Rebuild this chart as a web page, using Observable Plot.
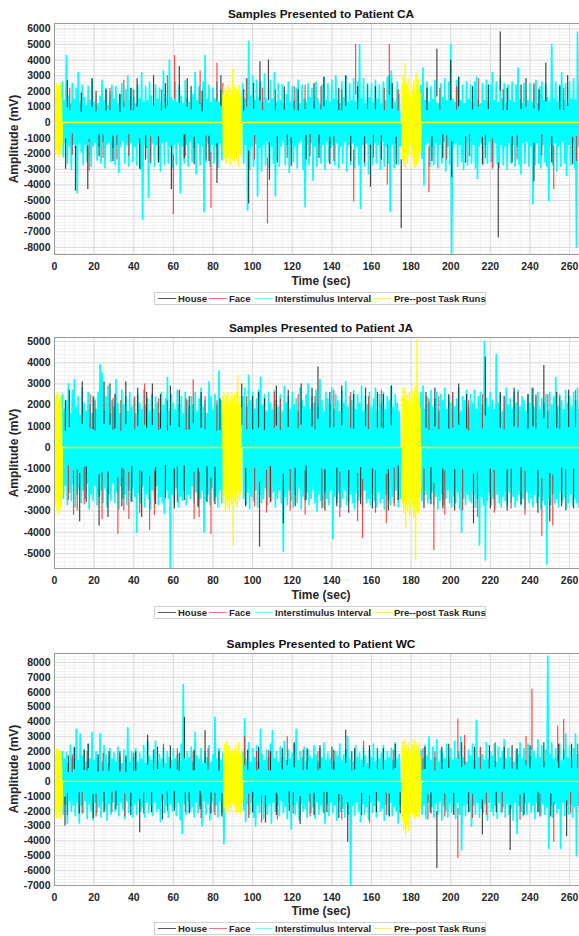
<!DOCTYPE html>
<html><head><meta charset="utf-8">
<script src="https://cdn.jsdelivr.net/npm/d3@7"></script>
<script src="https://cdn.jsdelivr.net/npm/@observablehq/plot@0.6"></script>
<style>
html,body{margin:0;padding:0;background:#fff;overflow:hidden;width:579px}
#root{position:relative;width:579px;height:936px;overflow:hidden;font-family:"Liberation Sans",Arial,sans-serif;color:#262626}
.panel{position:absolute;left:0;width:579px;height:310px;overflow:hidden}
.panel svg{display:block;overflow:hidden}
.ttl{position:absolute;left:54px;width:534px;text-align:center;font-weight:bold;font-size:11.8px;line-height:14px;color:#111;white-space:nowrap}
.xl{position:absolute;left:54px;width:534px;text-align:center;font-weight:bold;font-size:12px;line-height:14px;color:#262626}
.yl{position:absolute;left:14px;top:138px;transform:translate(-50%,-50%) rotate(-90deg);white-space:nowrap;font-weight:bold;font-size:12px;line-height:14px;color:#262626}
.lg{position:absolute;left:154px;width:330px;height:11px;border:1px solid #cfcfcf;background:#fff}
.lg span{position:absolute;top:0;font-weight:bold;font-size:9.5px;line-height:11px;color:#262626;white-space:nowrap}
.lg i{position:absolute;top:5px;height:1.4px;width:18px}
</style>
</head><body><div id="root"></div>
<script>
// ---------- shared ----------
const xTicks = [0,20,40,60,80,100,120,140,160,180,200,220,240,260];
const timeDomain = [0, 265];
const recordingEnd = 270;
const seriesNames = ["House","Face","Interstimulus Interval","Pre--post Task Runs"];
const seriesColors = ["#000000","#ff0000","#00ffff","#ffff00"];

// ---------- Patient CA ----------
const caYTicks = [-8000,-7000,-6000,-5000,-4000,-3000,-2000,-1000,0,1000,2000,3000,4000,5000,6000];
const caYDomain = [-8460, 6350];
const caIsiUp = [
0,0,0,0,2600,1400,4300,1700,1200,2500,
1500,2200,3200,1300,2400,1600,1100,2300,1400,2800,
1300,1900,1200,1700,2700,1400,2200,1100,1900,2400,
1500,2300,1200,1800,2500,1300,2100,3000,1400,2200,
1600,1200,2400,1500,3200,1300,2300,1400,2600,1700,
1200,2400,1500,2200,1300,3300,1800,1200,4000,1600,
1400,2600,1300,2400,1700,1200,2700,1500,1300,2300,
1800,3200,1400,2300,1200,2600,4300,1500,2400,1300,
2200,1500,2600,1300,2100,1800,0,0,0,0,
0,0,0,0,0,2500,1500,2800,5200,1700,
3000,1400,2700,1600,2600,1300,3100,1500,1200,2700,
1500,3200,1300,2500,1400,2400,1200,1800,2600,1300,
2300,1400,2200,2700,1200,2400,1500,1300,2500,1600,
2200,1300,2600,1500,1200,2400,2900,1400,2500,1300,
2700,1500,3000,1400,1200,2600,1600,3000,1300,2500,
1400,2800,1300,2600,5000,1500,2800,1200,2500,1600,
2500,1300,2700,1500,2400,1200,2600,1400,2900,3000,
3300,1500,1300,2600,1800,0,0,0,0,0,
0,0,0,0,0,2400,3500,1400,2600,1300,
2300,1500,2700,1300,1200,2500,1600,2800,1400,2600,
5000,1500,1300,2700,2900,1400,2400,1200,2600,1500,
2400,1300,2600,2900,1500,1200,2500,1400,2700,1300,
2400,3200,1400,2600,1300,2800,1500,2500,1200,2400,
1400,2600,1300,2400,3500,1500,1200,2500,2800,1400,
2500,1300,2400,2700,1200,2300,2600,1400,2500,1600,
1300,5000,1500,2600,1300,2400,3200,1400,2500,1200,
2600,1500,2800,1400,5800,2500,1300,2600,1500,2400];
const caIsiDown = [
0,0,0,0,-2200,-1300,-2600,-1500,-3000,-1400,
-1600,-4500,-1300,-1900,-2700,-1400,-2500,-1200,-2800,-1500,
-1300,-2400,-1500,-2600,-1200,-2900,-1400,-1300,-2500,-1600,
-2700,-1400,-3200,-1500,-1200,-2600,-1400,-2800,-1300,-2500,
-1500,-2700,-1300,-3000,-6200,-1400,-1600,-4800,-2600,-1300,
-2800,-1400,-2500,-3100,-1300,-2700,-1200,-2600,-1500,-2900,
-1400,-2700,-1300,-4500,-1500,-2600,-1400,-2800,-1200,-2500,
-1600,-3300,-1300,-2700,-1500,-5700,-2500,-1300,-2800,-1400,
-2600,-1500,-2900,-1300,-2400,-1600,0,0,0,0,
0,0,0,0,0,-2600,-1400,-5600,-3000,-1500,
-2800,-1300,-4700,-1600,-3100,-1400,-2700,-1200,-2900,-1500,
-2600,-4700,-1300,-2800,-1500,-1200,-2700,-1400,-3200,-1300,
-2500,-1500,-2900,-1300,-1200,-3000,-5400,-1400,-2700,-1300,
-3700,-1500,-2800,-1300,-2600,-1400,-3000,-1200,-2500,-1600,
-1400,-2700,-1300,-2900,-1500,-2600,-1200,-3100,-1400,-2700,
-1300,-2900,-1500,-2700,-5500,-1400,-2800,-1300,-3300,-1500,
-2700,-1300,-2600,-1400,-3000,-1200,-2800,-1500,-2600,-5700,
-1400,-2900,-1300,-2700,-1500,0,0,0,0,0,
0,0,0,0,0,-2300,-4000,-1400,-1300,-2800,
-1500,-2700,-1300,-2900,-1400,-2600,-1200,-3100,-1500,-2700,
-8400,-1600,-1300,-2800,-1400,-2500,-3000,-1300,-2700,-1200,
-2600,-1400,-2900,-3600,-1500,-1300,-2700,-1400,-2600,-1200,
-2500,-2800,-1300,-2600,-2900,-1400,-2700,-1500,-3000,-1300,
-2600,-1400,-2800,-1500,-2700,-3300,-1300,-2600,-1200,-2800,
-1500,-5200,-2700,-1300,-2600,-2900,-1400,-2500,-2800,-5000,
-1400,-2700,-1300,-3100,-1500,-2800,-1200,-2600,-3400,-1400,
-2700,-1300,-2900,-8000,-1500,-2800,-1200,-2600,-1400,-2700];
const caHouse = [[5.6,-3000],[6.5,2700],[10.6,-4400],[13.5,1900],[16.8,-4300],[19,2800],[22.5,-2200],[26,2100],[29.5,-2500],[33,1800],[38.5,2200],[41.7,2800],[43,-3000],[46,-2400],[50,3000],[52.5,-2600],[56,2500],[59,-4300],[63,3600],[65.5,-2300],[67,2800],[70.5,-2700],[74.5,2000],[78,-2500],[82,-3900],[84,3000],[95.5,2100],[98,-5200],[100.5,2500],[103.7,3900],[108,4000],[108.5,-3700],[112.5,-2600],[116,2300],[119.5,-2800],[123,2100],[127,-2400],[131,2500],[133.5,-2300],[136,2900],[139,-2700],[143.5,2200],[147,3000],[149.5,-2500],[153,2300],[156.5,-2600],[159.5,-4150],[162,2300],[165,-2400],[170.5,2500],[172.5,-2700],[175,-6800],[188,2200],[190.5,-2500],[193,4700],[196,-2300],[200,4000],[200.5,-3500],[204,2900],[207.5,-2600],[211,2300],[216,-2700],[219,2400],[224,-7400],[225,5800],[228.5,2200],[231,-2600],[235.5,2400],[242,-3800],[244.5,2100],[248,3800],[251,-2600],[255,2300],[259,3000],[261.5,-2700],[266,2200]];
const caFace = [[7.7,2200],[9,-2100],[17.5,-3100],[21,2000],[24.5,-2300],[28,2200],[31.5,-2400],[35,2700],[37.5,-2200],[40,2100],[48.5,-2600],[54,2100],[57,3000],[60,-5900],[60.6,4300],[66,-2200],[69,2300],[73.5,3300],[76.5,-2400],[79,-5500],[82,3800],[85,2500],[97,2800],[101,-2400],[105,2200],[107.5,-6500],[111.5,2100],[117.5,-2300],[121,2300],[126.5,2400],[129,-2200],[134.5,2300],[141,-2500],[145,2100],[151,-5100],[152,5000],[158,2400],[161,-2300],[166.5,2200],[168,-4000],[169,5000],[173.5,2100],[189,-4500],[194.5,2200],[198,-2400],[203,2300],[209.5,-2200],[214,2800],[217.5,-2300],[221,-3000],[226.5,2100],[233.5,-2400],[238,2800],[242,2500],[246,-2200],[252,-4300],[257,2200],[263.5,-2500],[267,2300]];
const caPreStart = [0, 85, 175.5];
const caPreUp = [
[2400,1800,2500,2100,2300,1900,2500,1600],
[1800,2300,1700,2100,1900,2400,1800,2200,1600,2000,3400,1900,2300,1700,2100,1800,2400,1900,1600],
[2400,3000,2600,3800,2500,2200,2800,2100,1800,1500,1900,2300,2700,2000,3200,2400,2800,2100,1900]];
const caPreDown = [
[-2100,-1700,-2000,-1500,-2200,-1800,-2000,-1400],
[-1900,-2300,-1700,-2600,-2000,-2200,-1800,-2700,-2100,-2400,-1900,-2500,-2000,-2300,-1700,-2800,-2100,-1900,-2200],
[-2300,-2800,-2500,-3000,-2200,-2600,-2000,-1500,-1300,-1700,-2100,-2600,-2900,-2300,-2700,-2100,-2500,-1900,-1800]];

// ---------- Patient JA ----------
const jaYTicks = [-5000,-4000,-3000,-2000,-1000,0,1000,2000,3000,4000,5000];
const jaYDomain = [-5710, 5190];
const jaIsiUp = [
0,0,0,0,2500,1800,2200,3000,1600,2700,
3200,1900,2400,1500,2800,2100,1700,2600,2000,1600,
2300,1800,2600,3900,3500,1700,2400,2900,1600,2200,
1900,3200,2100,1600,2700,2000,2400,1700,2600,1900,
2300,1600,2500,2100,1800,2700,2000,2300,1700,2500,
1800,2400,2100,1600,2600,2000,2300,3300,1700,2500,
2100,1800,2700,2000,2400,1600,2600,2200,1900,2400,
2000,2600,1700,2300,2800,1900,2200,1600,3100,2400,
1800,2500,2000,3600,2200,1700,0,0,0,0,
0,0,0,0,0,2400,2800,1900,3400,2200,
2600,1800,2300,2700,3300,2000,2500,1700,2600,2100,
1800,2700,2200,1900,2500,1700,2900,2100,2400,1800,
2600,2000,2300,1700,2800,2200,1900,2500,3000,1800,
2400,2100,2700,1900,3200,2200,1700,2600,2300,2000,
2800,1800,2500,2200,1700,2700,2100,3100,1900,2400,
2200,2700,1800,2500,2100,2900,1700,2400,2000,2600,
1900,2300,2800,1700,2500,2100,2600,1800,2400,2200,
2900,1900,2500,2100,1700,0,0,0,0,0,
0,0,0,0,0,2600,2900,1800,2400,2100,
2700,1900,2300,2600,1700,2500,2200,2800,1800,2400,
2100,2600,1900,2300,2800,1700,2400,2200,2700,1900,
2500,2100,2700,1800,2400,2600,2000,5000,2300,1900,
2600,2200,1800,4400,2100,2500,1700,2400,2800,2000,
2300,1800,2600,2100,2700,1900,2400,2200,1700,2500,
2100,2800,1900,2400,2600,1800,2300,2100,2500,1700,
2600,2000,2400,3300,1900,2500,2200,1800,2700,2100,
2400,1900,2600,2200,2800,1800,2500,2300,2000,2400];
const jaIsiDown = [
0,0,0,0,-2400,-1800,-2700,-2100,-2500,-1700,
-2800,-2200,-1900,-2600,-2000,-2400,-1700,-2900,-2200,-2500,
-1800,-2700,-2300,-2000,-2600,-1900,-2800,-2200,-2500,-1700,
-2600,-2100,-2900,-1800,-2400,-2200,-2700,-2000,-2500,-1900,
-2300,-4000,-2100,-2600,-1800,-2800,-2200,-2400,-2900,-2000,
-2500,-1800,-2700,-2300,-2600,-3100,-2000,-2400,-5700,-2200,
-2600,-1900,-2800,-2300,-2500,-2000,-2700,-2200,-2400,-1800,
-2600,-2100,-2800,-2400,-2000,-4000,-2500,-2200,-2700,-1900,
-2500,-2300,-2800,-2000,-2600,-2200,0,0,0,0,
0,0,0,0,0,-2400,-2700,-2100,-2900,-2300,
-2500,-2000,-2800,-2200,-2600,-2400,-1900,-2700,-2300,-2500,
-2100,-2800,-2400,-2000,-2600,-4900,-2300,-2700,-2000,-2500,
-2800,-2200,-2600,-1900,-2900,-2300,-2500,-2100,-2700,-2400,
-2000,-2600,-3000,-2200,-2500,-2800,-2100,-2400,-2700,-2000,
-4300,-2300,-2600,-2100,-2800,-2400,-2000,-2700,-2500,-2200,
-2600,-2900,-2100,-2500,-2300,-2800,-2000,-2600,-2400,-2700,
-2200,-2500,-2800,-2100,-2600,-2400,-2900,-2200,-2500,-2700,
-2300,-2600,-2000,-2800,-2400,0,0,0,0,0,
0,0,0,0,0,-2500,-2800,-2200,-2600,-2400,
-2100,-2700,-2300,-2900,-2500,-2200,-2700,-2400,-2000,-2600,
-2800,-2300,-2600,-2100,-2900,-4000,-2400,-2700,-2200,-2500,
-2600,-2200,-2800,-2400,-4600,-2300,-2700,-5300,-2500,-2100,
-2700,-2400,-2900,-2200,-2600,-2800,-2300,-2500,-2700,-2100,
-2600,-2300,-2800,-2500,-2200,-2700,-2400,-2900,-2100,-2600,
-2400,-2800,-2200,-2600,-2300,-2900,-2500,-2700,-5500,-2400,
-2700,-2200,-2600,-2400,-2800,-2100,-2500,-2300,-2900,-2600,
-2200,-2700,-2400,-2600,-2800,-2300,-2500,-2700,-2200,-2600];
const jaHouse = [[5.5,2200],[7.5,2700],[12.7,-3500],[14,3100],[16,-2600],[19.5,2400],[22.5,-3700],[25,3100],[27,-3300],[28,3000],[30.5,2500],[34,-2800],[36,3100],[39,-2600],[42,2800],[44,-3300],[46.5,2600],[49.4,3000],[51,-2700],[53.5,2500],[56,-2400],[58.5,2900],[60.5,-2900],[63,2700],[65.5,-2500],[68,2400],[72.5,-2800],[74,2600],[77,-2600],[81,-2700],[83.5,2300],[94.5,3000],[96.5,-2800],[100,2400],[103,2600],[103.5,-4700],[106,2300],[109,-2600],[112,2900],[115.5,-3600],[118,2700],[121.5,-2800],[124.5,3000],[127,-2500],[130,2800],[133,3800],[136.5,-3000],[139,2600],[142.5,-2800],[145,2900],[148.5,-3100],[151,2500],[154.5,-2700],[157,2800],[160.5,-2900],[163,2600],[166,2500],[168.5,-3000],[170,2900],[173.5,-2500],[187.5,2600],[190,-2700],[192,2800],[196,-2900],[199,2500],[202,-3000],[204,3000],[208,2500],[211.5,-3600],[217.5,4260],[220,-2900],[225,2600],[228.5,-3000],[232,2800],[235.5,-2700],[239,2500],[241.5,2800],[244,-3100],[247,3870],[250,-3500],[253.5,2600],[256,-2800],[259.5,2700],[262,-2900],[266,2500]];
const jaFace = [[7,-2500],[9.6,-3200],[11.5,-3000],[15,-2700],[18,2500],[20.5,2200],[24,-3400],[29.5,2300],[32,-4100],[33.5,2200],[35,-3000],[37.5,-3400],[40.5,2400],[43,-3100],[45.5,3000],[48,-3900],[50.5,-3200],[52.5,2300],[57,2200],[62,-2600],[66.5,2300],[70,3200],[70.5,-3400],[73,-3300],[76,2400],[79,-4100],[82,2200],[97,2400],[101,-2800],[107,-3100],[109,-2600],[111,2600],[114,2300],[119,-3000],[123,2500],[126.5,-3200],[131.5,2400],[135,-2900],[141,2700],[144,-3300],[149.5,2600],[153,-3500],[155.5,-4300],[158.5,2400],[162,-3100],[165,2700],[167.5,-3600],[171.5,-2800],[186.5,-2900],[189,2300],[191.5,-4870],[194,2400],[197,-3200],[201,2600],[206,-3000],[209,2200],[213.5,-3300],[216,2500],[222,-3100],[227,2400],[230.5,-2900],[234,2600],[237.5,-3200],[243,2500],[246,-4200],[249,2500],[251.5,-3700],[255,2400],[258,-3000],[263,2700],[267,-3100]];
const jaPreStart = [0, 85, 175.5];
const jaPreUp = [
[2600,2300,2500,2600,2200,2500,2400,2000],
[2400,2600,2100,2500,2300,2600,2000,2400,2200,2600,2300,2100,2500,2200,2600,3400,2100,2400,1900],
[2400,2800,2300,2800,2100,2500,2200,2600,1900,2300,2700,2100,2500,2900,2400,5100,2600,2200,1900]];
const jaPreDown = [
[-2800,-2400,-3000,-2600,-3100,-2700,-2900,-2300],
[-2600,-2200,-3000,-2400,-2800,-2500,-2900,-2200,-2700,-2400,-4600,-2100,-2600,-2300,-2800,-2000,-2500,-2200,-1900],
[-2600,-3100,-2800,-3800,-2500,-3000,-2700,-3200,-2400,-2900,-2600,-3300,-2800,-5300,-3000,-2700,-3100,-2400,-2100]];

// ---------- Patient WC ----------
const wcYTicks = [-7000,-6000,-5000,-4000,-3000,-2000,-1000,0,1000,2000,3000,4000,5000,6000,7000,8000];
const wcYDomain = [-7000, 8600];
const wcIsiUp = [
0,0,0,0,2000,1500,1900,1200,2400,1600,
2200,3500,1400,3200,1700,2100,1300,2500,1500,3300,
1400,2000,1600,3200,1300,2400,1800,1200,2200,1500,
1900,1300,2300,1600,1200,2100,1500,3600,1300,2000,
1600,2200,1300,1900,1500,2400,1200,2700,1700,1400,
2100,2700,1300,1800,1500,2300,1200,2000,1600,1400,
2200,1500,1800,1300,2500,6500,1400,2000,1600,2300,
1300,3300,1700,1500,2200,1200,2000,1600,2400,1300,
1800,4300,1500,2200,1400,1900,0,0,0,0,
0,0,0,0,0,2000,4200,1500,2600,1300,
2200,1600,2400,1300,3500,1800,1400,2100,1600,2500,
3400,1500,2000,1300,2300,1600,2700,1400,2100,1500,
1900,2500,3500,1400,2000,1600,2300,1300,2100,1700,
1500,2400,1800,1300,2200,1600,2600,1400,1900,1500,
2300,1300,2000,1700,2500,1400,1800,2100,3000,1500,
2000,1300,2400,1600,1900,1400,2300,1700,1200,2100,
1600,2500,1300,2200,1500,1900,2400,1400,2000,1600,
2200,1400,2600,1500,1800,0,0,0,0,0,
0,0,0,0,0,2100,1500,2400,1700,3000,
1400,2300,1600,2800,1300,2100,1900,1500,2500,1600,
2200,1400,2700,1500,2000,3000,1600,2400,1300,2100,
1700,2500,1400,4100,1600,2200,1800,1400,2600,1500,
2000,1700,2500,1300,2300,1600,2000,2800,1500,2200,
1600,2400,1300,2100,1800,2600,1500,2200,1400,2500,
1700,2300,2000,1500,2800,1600,2400,1300,2100,8400,
1800,2600,1500,2200,1700,2500,1400,2100,3200,1600,
2400,1500,2200,3200,1800,2500,1400,2100,1700,2300];
const wcIsiDown = [
0,0,0,0,-2200,-1500,-2800,-1300,-2000,-1600,
-2300,-1400,-2800,-1600,-2100,-1300,-2500,-1500,-2000,-2600,
-1400,-2100,-1700,-2400,-1300,-1900,-2600,-1500,-2200,-1400,
-2000,-1600,-2300,-1400,-1900,-2500,-1300,-2100,-1600,-2400,
-1500,-2200,-1300,-2000,-1700,-2400,-1400,-2100,-1600,-2300,
-1400,-2000,-1800,-2700,-1300,-2100,-1600,-2400,-1500,-2000,
-1700,-2300,-1400,-2600,-3500,-1500,-2200,-1300,-2000,-1700,
-2400,-1400,-2100,-1600,-3000,-1300,-2200,-1500,-2600,-1400,
-2000,-1600,-2400,-1300,-2100,-4200,0,0,0,0,
0,0,0,0,0,-1900,-2700,-1500,-2200,-1400,
-2400,-3000,-1600,-2100,-1400,-2500,-1700,-2200,-1500,-2800,
-1400,-2000,-1600,-2300,-1300,-2100,-1700,-2500,-1400,-3200,
-1600,-2200,-1400,-2600,-1500,-2000,-1800,-2400,-1300,-2100,
-1700,-2500,-1400,-2200,-1600,-2000,-2800,-1500,-2300,-1400,
-2100,-1600,-2600,-1300,-2000,-1800,-2400,-1500,-2200,-7000,
-1600,-2300,-1400,-2000,-2700,-1500,-2200,-1700,-2500,-1400,
-2100,-1600,-2400,-1300,-2000,-1800,-2600,-1500,-2200,-1400,
-2300,-1700,-2000,-2800,-1500,0,0,0,0,0,
0,0,0,0,0,-2200,-1600,-2500,-1400,-2000,
-1700,-2400,-1500,-2200,-1300,-2600,-1600,-2000,-2400,-1500,
-2100,-1700,-2500,-1400,-2200,-4600,-1600,-2300,-1500,-2000,
-3000,-1600,-2200,-1400,-2400,-1800,-2100,-1500,-2600,-1400,
-2000,-2300,-1600,-2500,-1400,-2100,-1700,-2400,-1500,-2200,
-1800,-2600,-1400,-3500,-1600,-2000,-2300,-1500,-2200,-1400,
-2100,-1600,-2500,-1400,-2000,-2300,-1500,-2200,-1700,-4500,
-1600,-2400,-1500,-2100,-1800,-4500,-1400,-2300,-1600,-2200,
-1500,-2400,-1700,-5000,-1600,-2200,-1400,-2500,-1700,-2100];
const wcHouse = [[5.3,-3000],[7,1700],[10,2300],[12.5,-2200],[15,2100],[17,2500],[19.5,-2500],[22,1800],[25,-2100],[27.5,2000],[31,-1900],[33,2000],[36,1700],[38.5,-2300],[41,2000],[43,-3450],[47,3100],[49,-2100],[52,2300],[54.5,-2600],[58.5,2400],[60.5,-2000],[63,1900],[65.6,4300],[68,-2200],[70.5,2100],[73.5,-1900],[76,3400],[79,-2200],[83,2000],[84.5,-2400],[97.5,2100],[100,-2100],[103,2300],[106.5,-2800],[109,2000],[112,-2300],[115,2200],[118.5,-2000],[121,2600],[124,-2900],[127.5,2200],[131,-2300],[134,2400],[137.5,-2100],[141,2100],[143.5,-2500],[147,3440],[148,-4100],[151.5,2200],[155,-2300],[159,2400],[162.5,-2100],[166,2200],[169,-2400],[172,2500],[174.5,-2200],[187,2300],[190,-2200],[193,-5850],[195.5,2300],[199,2500],[201.5,-2300],[205.5,2600],[209,-2100],[212,2300],[216,-3600],[219.5,2400],[223,-2100],[227,2300],[230,-4640],[233.5,2200],[237,-2300],[240,2400],[244,-2100],[247,2600],[250.5,-2400],[254.5,2500],[258.5,-3700],[261,2500],[265,-2200]];
const wcFace = [[6.5,-2300],[9,1800],[14,-2200],[16.5,2000],[21,-2400],[24.5,1900],[29,-2100],[33,1800],[35.5,-2400],[40,1900],[45,-2200],[50,2100],[55,2500],[57,-2000],[62,2200],[66,-2100],[70,2000],[74,-2500],[77.5,2200],[81,-2300],[96,3000],[98,-2500],[102,2000],[104.5,-2800],[108,2100],[112.5,-2600],[117.5,3000],[120.5,-2200],[125.5,2100],[129,-2400],[133,2000],[136,-2200],[140,2300],[145,-2600],[150,2000],[156,2700],[159,-2800],[163,2200],[167.5,-2300],[171,2100],[186,2200],[188.5,-2600],[192,2000],[197,-2400],[203.6,4200],[203.6,-5200],[207,3100],[211,-2500],[215,2300],[218,-2300],[222.5,2600],[226,-2100],[231,2400],[235,-2600],[238,3000],[241,6200],[245,-2400],[252,-4100],[254,3700],[257,4170],[260.5,-2200],[264,2500],[268,-2400]];
const wcPreStart = [0, 85.5, 175.5];
const wcPreUp = [
[2000,1800,2200,1700,2100,1900,2000,1500],
[2000,2500,2200,2700,1900,2400,2100,1800,2300,2000,1700,2100,2400,1900,2200,2600,2000,1800,2100],
[2300,2700,2100,2800,2400,2000,2600,2200,1800,2100,2500,2300,2800,2000,2400,2100,2600,1900,1700]];
const wcPreDown = [
[-2300,-2000,-2500,-1800,-2400,-2100,-2500,-1700],
[-1800,-2200,-1600,-2000,-1700,-2200,-1500,-1900,-1300,-1600,-1400,-1800,-2100,-1700,-2000,-1600,-2200,-1900,-1500],
[-2600,-3200,-2800,-3500,-3000,-2700,-3300,-2400,-2100,-1800,-2200,-1900,-2500,-2100,-2300,-1800,-2400,-2000,-1700]];

// ---------- helpers ----------
function zigzag(up, down) {
  const pts = [];
  up.forEach((u, t) => { pts.push({t, v: u}); pts.push({t: t + 0.5, v: down[t]}); });
  return pts;
}
function taskLine(starts, ups, downs, end) {
  const pts = [];
  starts.forEach((s, b) => {
    pts.push({t: s, v: 0});
    ups[b].forEach((u, i) => {
      pts.push({t: s + i * 0.5, v: u});
      pts.push({t: s + i * 0.5 + 0.25, v: downs[b][i]});
    });
    pts.push({t: s + ups[b].length * 0.5, v: 0});
  });
  pts.push({t: end, v: 0});
  return pts;
}

const panels = [
  {title: "Samples Presented to Patient CA", top: 0, plotH: 231, yDomain: caYDomain, yTicks: caYTicks, up: caIsiUp, down: caIsiDown, house: caHouse, face: caFace, ps: caPreStart, pu: caPreUp, pd: caPreDown},
  {title: "Samples Presented to Patient JA", top: 314, plotH: 231, yDomain: jaYDomain, yTicks: jaYTicks, up: jaIsiUp, down: jaIsiDown, house: jaHouse, face: jaFace, ps: jaPreStart, pu: jaPreUp, pd: jaPreDown},
  {title: "Samples Presented to Patient WC", top: 630, plotH: 232, yDomain: wcYDomain, yTicks: wcYTicks, up: wcIsiUp, down: wcIsiDown, house: wcHouse, face: wcFace, ps: wcPreStart, pu: wcPreUp, pd: wcPreDown}
];

const root = document.getElementById("root");
const fmt = d => String(d);

for (const p of panels) {
  const wrap = document.createElement("div");
  wrap.className = "panel";
  wrap.style.top = p.top + "px";
  const isi = zigzag(p.up, p.down);
  const pre = taskLine(p.ps, p.pu, p.pd, recordingEnd);
  const [y0, y1] = p.yDomain;
  const chart = Plot.plot({
    width: 579, height: 23 + p.plotH + 36,
    marginLeft: 54, marginRight: 0, marginTop: 23, marginBottom: 36,
    style: {fontFamily: '"Liberation Sans", Arial, sans-serif', fontSize: "10.5px", fontWeight: "bold", color: "#262626", background: "transparent", overflow: "hidden"},
    x: {domain: timeDomain, axis: null},
    y: {domain: p.yDomain, axis: null},
    marks: [
      Plot.gridX(d3.range(0, timeDomain[1] + 1, 5), {stroke: "#f1f1f1", strokeOpacity: 1}),
      Plot.gridY(d3.range(Math.ceil(y0 / 200) * 200, y1, 200), {stroke: "#f1f1f1", strokeOpacity: 1}),
      Plot.gridX(xTicks, {stroke: "#dcdcdc", strokeOpacity: 1}),
      Plot.gridY(p.yTicks, {stroke: "#dcdcdc", strokeOpacity: 1}),
      Plot.line(isi, {x: "t", y: "v", stroke: seriesColors[2], strokeWidth: 1.7, clip: true}),
      Plot.ruleX(p.house, {x: d => d[0], y1: d => d[1] * 0.35, y2: d => d[1], stroke: seriesColors[0], strokeOpacity: 0.72, strokeWidth: 1.2, clip: true}),
      Plot.ruleX(p.face, {x: d => d[0], y1: d => d[1] * 0.35, y2: d => d[1], stroke: seriesColors[1], strokeOpacity: 0.7, strokeWidth: 1.2, clip: true}),
      Plot.line(pre, {x: "t", y: "v", stroke: seriesColors[3], strokeWidth: 1.4, clip: true}),
      Plot.frame({anchor: "top", stroke: "#9a9a9a"}),
      Plot.frame({anchor: "left", stroke: "#9a9a9a"}),
      Plot.frame({anchor: "bottom", stroke: "#9a9a9a"}),
      Plot.axisX(xTicks, {tickSize: 0, tickPadding: 8, tickFormat: fmt, label: null}),
      Plot.axisY(p.yTicks, {tickSize: 0, tickPadding: 4, tickFormat: fmt, label: null})
    ]
  });
  wrap.append(chart);

  const t = document.createElement("div");
  t.className = "ttl"; t.style.top = "7px"; t.textContent = p.title;
  wrap.append(t);

  const xl = document.createElement("div");
  xl.className = "xl"; xl.style.top = "274px"; xl.textContent = "Time (sec)";
  wrap.append(xl);

  const yl = document.createElement("div");
  yl.className = "yl"; yl.style.top = (23 + p.plotH / 2) + "px"; yl.textContent = "Amplitude (mV)";
  wrap.append(yl);

  const lg = document.createElement("div");
  lg.className = "lg"; lg.style.top = "292px";
  const swatchX = [3, 54, 100, 219];
  const labelX = [23, 74, 120, 239];
  const swatchC = ["#5a5a5a", "#f07080", "#7ff5f5", "#f5f56a"];
  seriesNames.forEach((n, i) => {
    const sw = document.createElement("i");
    sw.style.left = swatchX[i] + "px"; sw.style.background = swatchC[i];
    lg.append(sw);
    const s = document.createElement("span");
    s.style.left = labelX[i] + "px"; s.textContent = n;
    lg.append(s);
  });
  wrap.append(lg);
  root.append(wrap);
}
</script>
</body></html>
